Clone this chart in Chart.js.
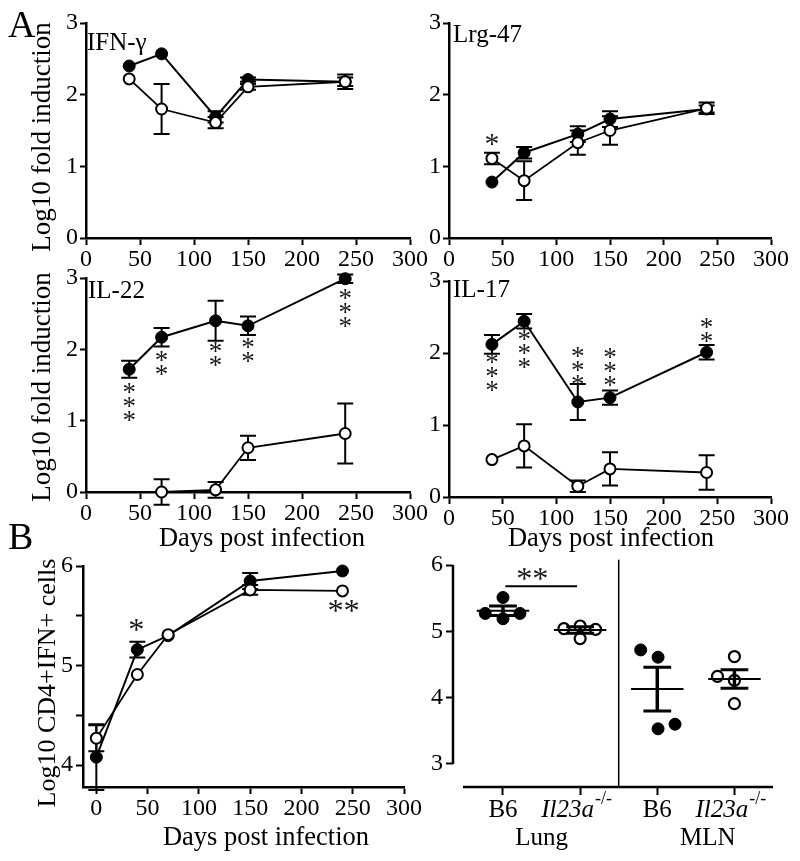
<!DOCTYPE html>
<html><head><meta charset="utf-8">
<script src="https://cdn.jsdelivr.net/npm/chart.js@4.4.1/dist/chart.umd.min.js"></script>
<style>
html,body{margin:0;padding:0;background:#fff;}
#wrap{position:relative;width:800px;height:861px;background:#fff;}
#wrap canvas{position:absolute;left:0;top:0;}
</style></head><body><div id="wrap">
<canvas id="cA1" width="800" height="861"></canvas>
<canvas id="cA2" width="800" height="861"></canvas>
<canvas id="cA3" width="800" height="861"></canvas>
<canvas id="cA4" width="800" height="861"></canvas>
<canvas id="cB1" width="800" height="861"></canvas>
<canvas id="cB2" width="800" height="861"></canvas>
</div>
<script>
// ---------- DATA ----------
const days = [40, 70, 120, 150, 240];
const xTicksA = [0, 50, 100, 150, 200, 250, 300];
const yTicksA = [0, 1, 2, 3];

const ifngB6 = [2.40, 2.57, 1.69, 2.21, 2.18];
const ifngB6Err = [0, 0, 0.08, 0.03, 0.06];
const ifngKO = [2.22, 1.80, 1.61, 2.11, 2.18];
const ifngKOErr = [0, 0.35, 0.08, 0.04, 0.10];

const lrgB6 = [0.78, 1.19, 1.45, 1.66, 1.80];
const lrgB6Err = [0, 0.08, 0.11, 0.11, 0.05];
const lrgKO = [1.11, 0.80, 1.33, 1.50, 1.81];
const lrgKOErr = [0.08, 0.27, 0.17, 0.20, 0.08];
const lrgStarDays = [40], lrgStarY = [1.37], lrgStarN = [1];

const il22B6 = [1.72, 2.17, 2.40, 2.33, 2.99];
const il22B6Err = [0.12, 0.13, 0.28, 0.13, 0.06];
const il22KO = [null, 0.00, 0.03, 0.62, 0.82];
const il22KOErr = [0, 0.18, 0.11, 0.17, 0.42];
const il22StarDays = [40, 70, 120, 150, 240];
const il22StarY = [1.26, 1.80, 1.93, 1.99, 2.57];
const il22StarN = [3, 2, 2, 2, 3];

const il17B6 = [2.12, 2.44, 1.32, 1.38, 2.01];
const il17B6Err = [0.13, 0.10, 0.25, 0.10, 0.10];
const il17KO = [0.52, 0.71, 0.15, 0.39, 0.34];
const il17KOErr = [0, 0.30, 0.08, 0.23, 0.24];
const il17StarDays = [40, 70, 120, 150, 240];
const il17StarY = [1.73, 2.05, 1.81, 1.80, 2.31];
const il17StarN = [3, 3, 3, 3, 2];

const daysB = [0, 40, 70, 150, 240];
const xTicksB = [0, 50, 100, 150, 200, 250, 300];
const yTicksB = [4, 4.5, 5, 5.5, 6];
const cd4B6 = [4.08, 5.16, 5.30, 5.85, 5.95];
const cd4B6Err = [0.33, 0.08, 0, 0.08, 0];
const cd4KO = [4.27, 4.91, 5.31, 5.76, 5.75];
const cd4KOErr = [0.13, 0, 0, 0.05, 0];
const cd4StarDays = [39, 241], cd4StarY = [5.41, 5.60], cd4StarN = [1, 2];

const groupNames = ['B6', 'Il23a', 'B6', 'Il23a'];
const groupKO = [false, true, false, true];
const tissues = ['Lung', 'MLN'];
const yTicksC = [3, 4, 5, 6];
const lungB6 = [5.51, 5.27, 5.19, 5.27];
const lungB6Jit = [0, -0.23, 0, 0.22];
const lungKO = [5.04, 5.08, 4.89, 5.03];
const lungKOJit = [-0.21, 0, 0, 0.2];
const mlnB6 = [4.72, 4.61, 3.53, 3.60];
const mlnB6Jit = [-0.215, 0.01, 0.01, 0.23];
const mlnKO = [4.32, 4.62, 4.26, 3.91];
const mlnKOJit = [-0.22, 0, 0, 0];
const groupMeans = [5.31, 5.02, 4.13, 4.28];
const groupSems = [0.07, 0.05, 0.33, 0.14];
const sigFrom = 1.03, sigTo = 1.96, sigY = 5.68, sigStarX = 1.38, sigStarY = 5.86;

// ---------- HELPERS ----------
const FONT = "'Liberation Serif', 'Times New Roman', serif";
Chart.defaults.font.family = FONT;
Chart.defaults.color = '#000';

function scale(o) {
  return {
    type: 'linear', min: o.min, max: o.max,
    afterBuildTicks: s => { s.ticks = o.ticks.map(v => ({value: v})); },
    afterFit: s => {
      if (o.axis === 'x') { s.height = o.size; s.paddingLeft = 0; s.paddingRight = 0; }
      else { s.width = o.size; s.paddingTop = 0; s.paddingBottom = 0; }
    },
    grid: {display: true, drawOnChartArea: false, drawTicks: true, tickLength: o.tickLen, tickWidth: 2, tickColor: '#000'},
    border: {display: o.border !== false, color: '#000', width: 2.5},
    ticks: {color: '#000', font: {family: FONT, size: 24}, padding: o.pad, autoSkip: false, maxRotation: 0,
      callback: o.cb || (v => String(v))}
  };
}

function lineSets(xs, b6, b6e, ko, koe) {
  return [
    {label: 'Il23a-/-', data: xs.map((d, i) => ({x: d, y: ko[i]})), errs: koe,
     borderColor: '#000', borderWidth: 1.8, pointRadius: 5.5, pointBorderWidth: 2,
     pointBackgroundColor: '#fff', pointBorderColor: '#000', backgroundColor: '#fff', clip: false, tension: 0},
    {label: 'B6', data: xs.map((d, i) => ({x: d, y: b6[i]})), errs: b6e,
     borderColor: '#000', borderWidth: 2, pointRadius: 6, pointBorderWidth: 1,
     pointBackgroundColor: '#000', pointBorderColor: '#000', backgroundColor: '#000', clip: false, tension: 0}
  ];
}

function drawStarsAt(ctx, px, py, n, dir, h) {
  ctx.save();
  ctx.font = '100px ' + FONT;
  const m0 = ctx.measureText('*');
  const hh = (m0.actualBoundingBoxAscent + m0.actualBoundingBoxDescent) || 40;
  const size = 100 * h / hh;
  ctx.font = size.toFixed(1) + 'px ' + FONT;
  ctx.fillStyle = '#1a1a1a';
  ctx.textAlign = 'center';
  ctx.textBaseline = 'alphabetic';
  const m = ctx.measureText('*');
  const off = (m.actualBoundingBoxAscent - m.actualBoundingBoxDescent) / 2;
  for (let k = 0; k < n; k++) {
    const d = (k - (n - 1) / 2);
    if (dir === 'v') ctx.fillText('*', px, py + d * 14 + off);
    else ctx.fillText('*', px + d * 16, py + off);
  }
  ctx.restore();
}

function decor(cfg) {
  return {
    id: 'decor_' + cfg.id,
    beforeDatasetsDraw(chart) {
      const ctx = chart.ctx, ys = chart.scales.y;
      chart.data.datasets.forEach((ds, i) => {
        if (!ds.errs) return;
        const meta = chart.getDatasetMeta(i);
        meta.data.forEach((pt, j) => {
          const v = ds.data[j].y, e = ds.errs[j];
          if (v === null || !e) return;
          const y1 = ys.getPixelForValue(v + e), y2 = ys.getPixelForValue(v - e);
          ctx.save(); ctx.strokeStyle = '#000'; ctx.lineWidth = 2;
          ctx.beginPath();
          ctx.moveTo(pt.x, y1); ctx.lineTo(pt.x, y2);
          ctx.moveTo(pt.x - 8, y1); ctx.lineTo(pt.x + 8, y1);
          ctx.moveTo(pt.x - 8, y2); ctx.lineTo(pt.x + 8, y2);
          ctx.stroke(); ctx.restore();
        });
      });
    },
    afterDraw(chart) {
      const ctx = chart.ctx, xs = chart.scales.x, ys = chart.scales.y;
      if (cfg.extra) cfg.extra(chart, ctx, xs, ys);
      (cfg.stars || []).forEach(st => {
        st.x.forEach((xv, i) => drawStarsAt(ctx, xs.getPixelForValue(xv), ys.getPixelForValue(st.y[i]), st.n[i], st.dir, st.h || 10));
      });
      (cfg.texts || []).forEach(t => {
        ctx.save();
        ctx.fillStyle = '#000';
        ctx.font = (t.style || '') + ' ' + t.size + 'px ' + FONT;
        ctx.textAlign = t.align || 'left';
        ctx.textBaseline = 'alphabetic';
        if (t.rot) { ctx.translate(t.x, t.y); ctx.rotate(-Math.PI / 2); ctx.fillText(t.text, 0, 0); }
        else ctx.fillText(t.text, t.x, t.y);
        ctx.restore();
      });
    }
  };
}

function make(cfg, datasets, sx, sy, type) {
  const [l, t, r, b] = cfg.area;
  return new Chart(document.getElementById(cfg.id), {
    type: type || 'line',
    data: {datasets},
    options: {
      responsive: false, animation: false, events: [],
      layout: {padding: {left: l - cfg.yW, top: t, right: 800 - r, bottom: 861 - b - cfg.xH}},
      plugins: {legend: {display: false}, tooltip: {enabled: false}, title: {display: false}},
      scales: {x: sx, y: sy}
    },
    plugins: [decor(cfg)]
  });
}

const yTitleA = 'Log10 fold induction';
const xTitle = 'Days post infection';

// ---------- PANEL A ----------
function panelA(id, area, b6, b6e, ko, koe, texts, stars) {
  const cfg = {id, area, yW: 40, xH: 40, texts, stars};
  make(cfg, lineSets(days, b6, b6e, ko, koe),
    scale({axis: 'x', min: 0, max: 300, ticks: xTicksA, size: 40, tickLen: 7, pad: 0}),
    scale({axis: 'y', min: 0, max: 3, ticks: yTicksA, size: 40, tickLen: 6, pad: 2}));
}

panelA('cA1', [86, 23, 410, 238], ifngB6, ifngB6Err, ifngKO, ifngKOErr, [
  {text: 'A', x: 8, y: 37, size: 38},
  {text: 'IFN-γ', x: 87, y: 50, size: 25},
  {text: yTitleA, x: 50, y: 137, size: 27, rot: true, align: 'center'}
], []);

panelA('cA2', [449, 23, 771, 238], lrgB6, lrgB6Err, lrgKO, lrgKOErr, [
  {text: 'Lrg-47', x: 453, y: 42, size: 25}
], [{x: lrgStarDays, y: lrgStarY, n: lrgStarN, dir: 'v', h: 11}]);

panelA('cA3', [86, 278, 410, 492], il22B6, il22B6Err, il22KO, il22KOErr, [
  {text: 'IL-22', x: 88, y: 298, size: 25},
  {text: yTitleA, x: 50, y: 387, size: 27, rot: true, align: 'center'},
  {text: xTitle, x: 262, y: 546, size: 26.5, align: 'center'}
], [{x: il22StarDays, y: il22StarY, n: il22StarN, dir: 'v', h: 10}]);

panelA('cA4', [449, 281, 771, 497], il17B6, il17B6Err, il17KO, il17KOErr, [
  {text: 'IL-17', x: 453, y: 297, size: 25},
  {text: xTitle, x: 611, y: 546, size: 26.5, align: 'center'}
], [{x: il17StarDays, y: il17StarY, n: il17StarN, dir: 'v', h: 10}]);

// ---------- PANEL B left ----------
make({id: 'cB1', area: [83, 566, 404, 787], yW: 40, xH: 40, texts: [
    {text: 'B', x: 8, y: 549, size: 38},
    {text: 'Log10 CD4+IFN+ cells', x: 55, y: 683, size: 26, rot: true, align: 'center'},
    {text: xTitle, x: 266, y: 845, size: 26.5, align: 'center'}
  ], stars: [{x: cd4StarDays, y: cd4StarY, n: cd4StarN, dir: 'h', h: 12}]},
  lineSets(daysB, cd4B6, cd4B6Err, cd4KO, cd4KOErr),
  scale({axis: 'x', min: -13, max: 300, ticks: xTicksB, size: 40, tickLen: 7, pad: 0}),
  scale({axis: 'y', min: 3.78, max: 6, ticks: yTicksB, size: 40, tickLen: 7, pad: 3,
    cb: v => Number.isInteger(v) ? String(v) : ''}));

// ---------- PANEL B right ----------
function dots(vals, jit, cat, filled) {
  return {data: vals.map((v, i) => ({x: cat + jit[i], y: v})), showLine: false,
    pointRadius: filled ? 6 : 5.5, pointBorderWidth: filled ? 1 : 2.2,
    pointBackgroundColor: filled ? '#000' : '#fff', pointBorderColor: '#000', clip: false};
}
make({id: 'cB2', area: [453, 565, 773, 787], yW: 40, xH: 40,
  stars: [{x: [sigStarX], y: [sigStarY], n: [2], dir: 'h', h: 12}],
  extra(chart, ctx, xs, ys) {
    const a = chart.chartArea;
    ctx.save(); ctx.strokeStyle = '#000';
    // axes (offset style)
    ctx.lineWidth = 2.5;
    ctx.beginPath();
    ctx.moveTo(a.left, ys.getPixelForValue(6)); ctx.lineTo(a.left, ys.getPixelForValue(3));
    ctx.moveTo(a.left + 10, a.bottom); ctx.lineTo(a.right, a.bottom);
    ctx.stroke();
    // separator
    ctx.lineWidth = 1.5;
    ctx.beginPath();
    ctx.moveTo(xs.getPixelForValue(2.5), ys.getPixelForValue(6.08));
    ctx.lineTo(xs.getPixelForValue(2.5), a.bottom);
    ctx.stroke();
    // means and SEM
    groupMeans.forEach((m, g) => {
      const c = g + 1;
      const xl = xs.getPixelForValue(c - 0.34), xr = xs.getPixelForValue(c + 0.34);
      const xc = xs.getPixelForValue(c), cl = xs.getPixelForValue(c - 0.18), cr = xs.getPixelForValue(c + 0.18);
      const ym = ys.getPixelForValue(m), yt = ys.getPixelForValue(m + groupSems[g]), yb = ys.getPixelForValue(m - groupSems[g]);
      ctx.lineWidth = 2; ctx.beginPath(); ctx.moveTo(xl, ym); ctx.lineTo(xr, ym); ctx.stroke();
      ctx.lineWidth = 3.5; ctx.beginPath(); ctx.moveTo(xc, yt); ctx.lineTo(xc, yb); ctx.stroke();
      ctx.lineWidth = 3; ctx.beginPath(); ctx.moveTo(cl, yt); ctx.lineTo(cr, yt); ctx.moveTo(cl, yb); ctx.lineTo(cr, yb); ctx.stroke();
    });
    // significance bar
    ctx.lineWidth = 2;
    ctx.beginPath();
    ctx.moveTo(xs.getPixelForValue(sigFrom), ys.getPixelForValue(sigY));
    ctx.lineTo(xs.getPixelForValue(sigTo), ys.getPixelForValue(sigY));
    ctx.stroke();
    ctx.restore();
    // category labels
    ctx.save(); ctx.fillStyle = '#000'; ctx.textBaseline = 'alphabetic';
    groupNames.forEach((nm, g) => {
      const xc = xs.getPixelForValue(g + 1);
      if (!groupKO[g]) {
        ctx.font = '25px ' + FONT; ctx.textAlign = 'center';
        ctx.fillText(nm, xc, 817);
      } else {
        ctx.font = 'italic 25px ' + FONT;
        const w1 = ctx.measureText(nm).width;
        ctx.font = '18px ' + FONT;
        const sup = '-/-';
        const w2 = ctx.measureText(sup).width;
        const x0 = xc - 4 - (w1 + w2) / 2;
        ctx.textAlign = 'left';
        ctx.font = 'italic 25px ' + FONT; ctx.fillText(nm, x0, 817);
        ctx.font = '18px ' + FONT; ctx.fillText(sup, x0 + w1 + 1, 804);
      }
    });
    ctx.font = '25px ' + FONT; ctx.textAlign = 'center';
    ctx.fillText(tissues[0], (xs.getPixelForValue(1) + xs.getPixelForValue(2)) / 2, 845);
    ctx.fillText(tissues[1], (xs.getPixelForValue(3) + xs.getPixelForValue(4)) / 2 + 12, 845);
    ctx.restore();
  }},
  [dots(lungB6, lungB6Jit, 1, true), dots(lungKO, lungKOJit, 2, false),
   dots(mlnB6, mlnB6Jit, 3, true), dots(mlnKO, mlnKOJit, 4, false)],
  scale({axis: 'x', min: 0.352, max: 4.5, ticks: [1, 2, 3, 4], size: 40, tickLen: 8, pad: 0, border: false, cb: () => ''}),
  scale({axis: 'y', min: 2.653, max: 6, ticks: yTicksC, size: 40, tickLen: 7, pad: 3, border: false}),
  'scatter');
</script>
</body></html>
